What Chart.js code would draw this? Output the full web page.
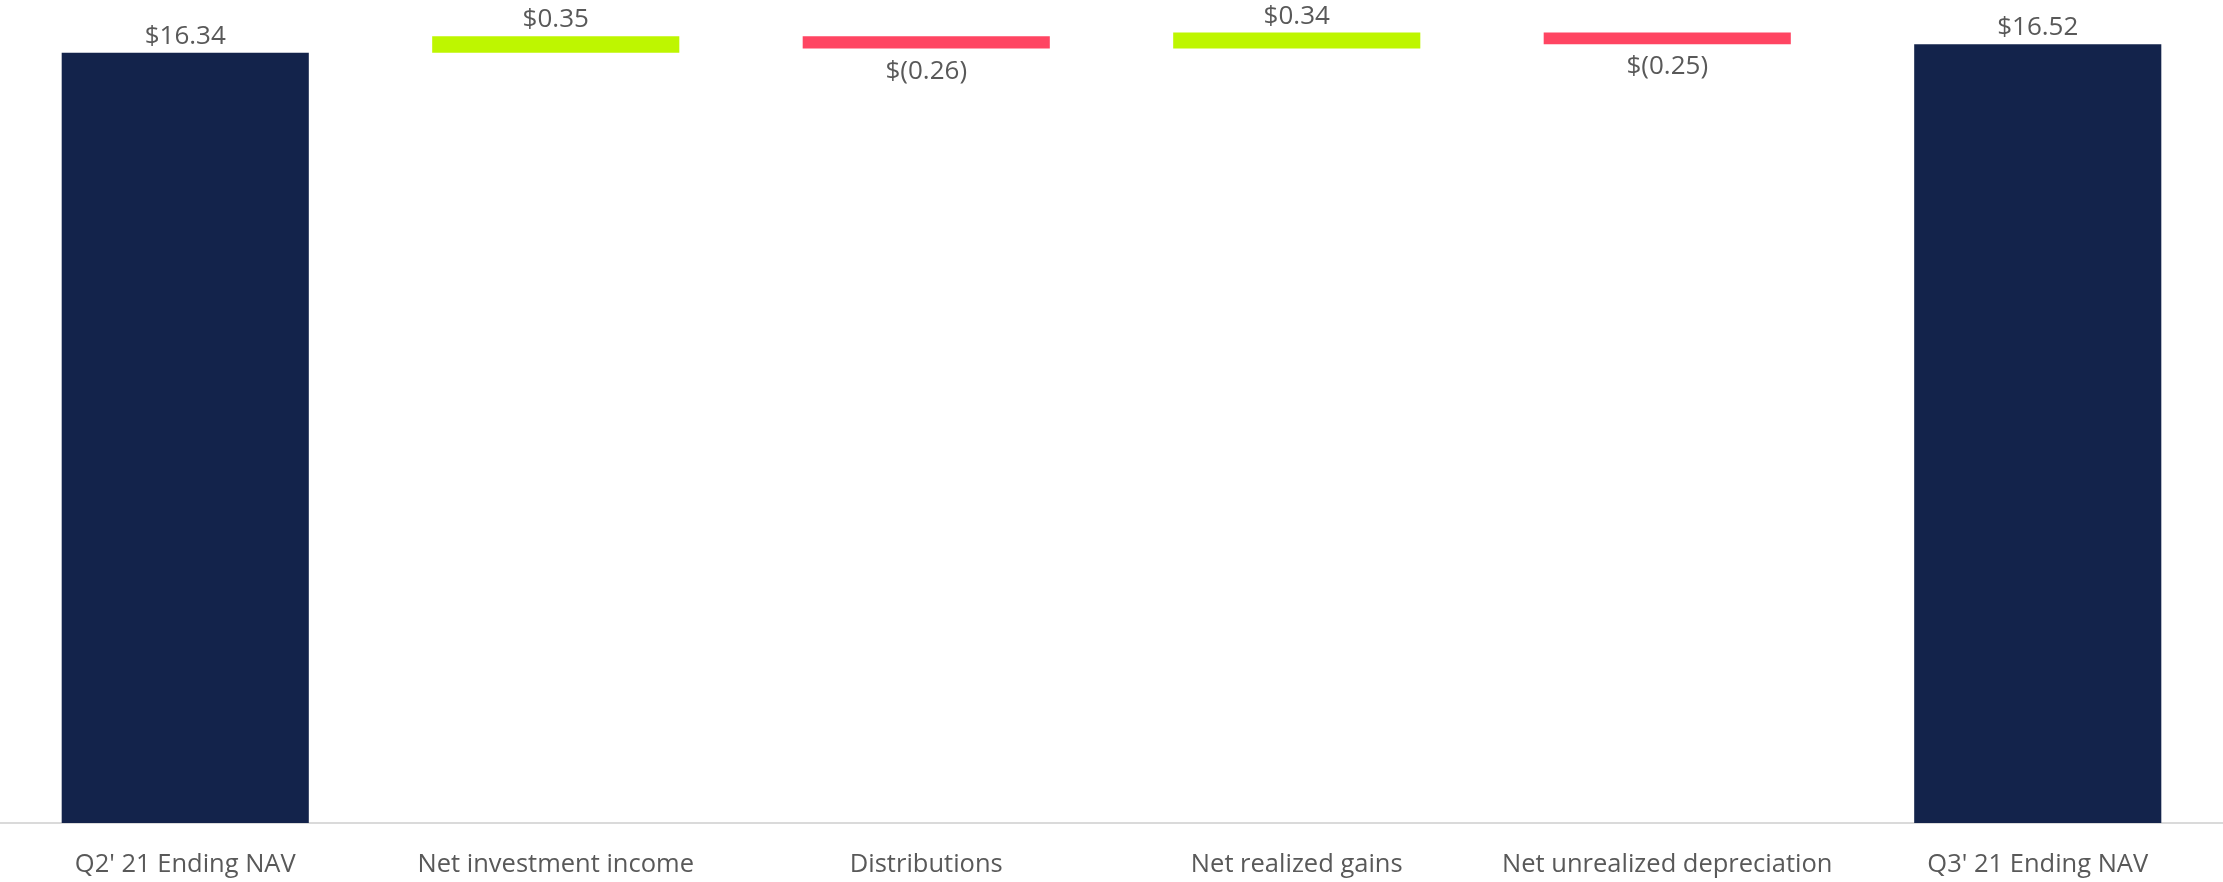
<!DOCTYPE html>
<html>
<head>
<meta charset="utf-8">
<script src="https://cdn.jsdelivr.net/npm/chart.js@4/dist/chart.umd.min.js"></script>
<style>
  html, body { margin: 0; padding: 0; background: #ffffff; }
  #wrap { width: 2223px; height: 882px; position: relative; }
</style>
</head>
<body>
<div id="wrap"><canvas id="navChart"></canvas></div>
<script>
// NAV bridge, Q2'21 -> Q3'21
const categories = ["Q2' 21 Ending NAV", "Net investment income", "Distributions", "Net realized gains", "Net unrealized depreciation", "Q3' 21 Ending NAV"];
const amounts = [16.34, 0.35, -0.26, 0.34, -0.25, 16.52];
const isTotal = [true, false, false, false, false, true];

const navy = "#13234b";
const lime = "#bef600";
const coral = "#ff4562";
const textGrey = "#595959";

// build floating [start, end] pairs for the waterfall
let running = 0;
let floating = [];
let colors = [];
for (let i = 0; i < amounts.length; i++) {
    if (isTotal[i]) {
        floating.push([0, amounts[i]]);
        running = amounts[i];
        colors.push(navy);
    } else {
        floating.push([running, running + amounts[i]]);
        running += amounts[i];
        colors.push(amounts[i] >= 0 ? lime : coral);
    }
}

function fmt(v) {
    return v < 0 ? "$(" + Math.abs(v).toFixed(2) + ")" : "$" + v.toFixed(2);
}

const valueLabels = {
    id: "valueLabels",
    afterDatasetsDraw(chart) {
        const ctx = chart.ctx;
        const meta = chart.getDatasetMeta(0);
        ctx.save();
        ctx.font = "26px 'Open Sans'";
        ctx.fillStyle = textGrey;
        ctx.textAlign = "center";
        ctx.textBaseline = "alphabetic";
        meta.data.forEach((bar, i) => {
            const top = Math.min(bar.y, bar.base);
            const bottom = Math.max(bar.y, bar.base);
            if (amounts[i] < 0)
                ctx.fillText(fmt(amounts[i]), bar.x, bottom + 30);
            else
                ctx.fillText(fmt(amounts[i]), bar.x, top - 9);
        });
        ctx.restore();
    }
};

new Chart("navChart", {
    type: "bar",
    data: {
        labels: categories,
        datasets: [{
            data: floating,
            backgroundColor: colors,
            borderWidth: 0,
            barPercentage: 0.667,
            categoryPercentage: 1.0
        }]
    },
    options: {
        responsive: true,
        maintainAspectRatio: false,
        animation: false,
        events: [],
        layout: { padding: { left: -2, right: -3, top: 0, bottom: 0 } },
        plugins: {
            legend: { display: false },
            tooltip: { enabled: false }
        },
        scales: {
            x: {
                offset: true,
                grid: { display: false, drawTicks: false },
                border: { display: true, color: "#dadada", width: 2 },
                ticks: {
                    color: textGrey,
                    font: { family: "'Open Sans'", size: 25.5 },
                    padding: 26,
                    maxRotation: 0,
                    autoSkip: false
                },
                afterFit(scale) { scale.height = 59; }
            },
            y: {
                display: false,
                min: 0,
                max: 17.46
            }
        }
    },
    plugins: [valueLabels]
});
</script>
</body>
</html>
